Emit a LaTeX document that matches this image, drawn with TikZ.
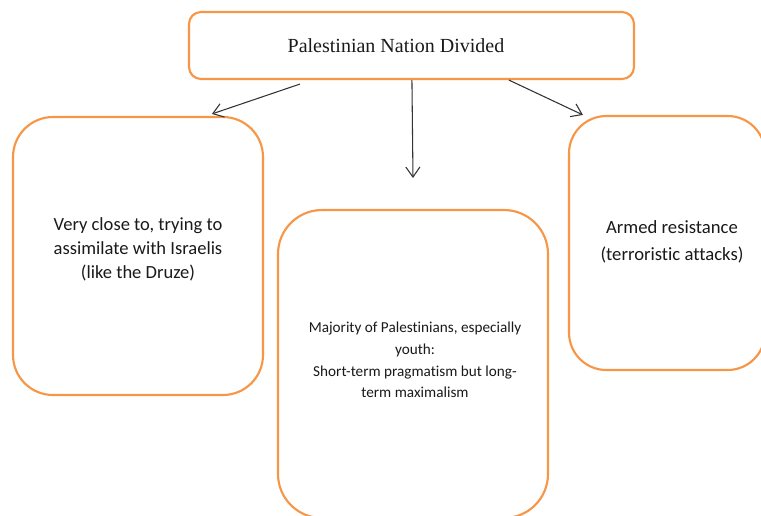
\documentclass[tikz,border=0pt]{standalone}
\usepackage{fontspec}
\setmainfont{Liberation Serif}
\newfontfamily\carlitofont[Ligatures=NoCommon]{Carlito}
\usetikzlibrary{arrows.meta,calc}
\definecolor{boxorange}{HTML}{F79646}
\definecolor{arrgray}{HTML}{333333}
\definecolor{txtgray}{HTML}{1A1A1A}
\tikzset{
  box/.style={draw=boxorange, line width=1.6pt, fill=white, inner sep=0pt, rectangle},
  arr/.style={draw=arrgray, line width=0.8pt, -{Straight Barb[length=7.5pt,width=10.5pt,line width=0.8pt]}},
  txt/.style={align=center, inner sep=0pt, text=txtgray}
}
\begin{document}
\begin{tikzpicture}[x=0.75pt,y=-0.75pt]
\useasboundingbox (0,0) rectangle (761,515);
\node[box, rounded corners=9pt, minimum width=445*0.75pt, minimum height=67*0.75pt] (top) at (411.5,45.5) {};
\node[box, rounded corners=30pt, minimum width=250*0.75pt, minimum height=278*0.75pt] (left) at (138,256) {};
\node[box, rounded corners=33pt, minimum width=270*0.75pt, minimum height=308*0.75pt] (mid) at (413,364) {};
\node[box, rounded corners=28pt, minimum width=196*0.75pt, minimum height=254*0.75pt] (right) at (667,243) {};

\node[txt, font=\fontsize{15}{18}\selectfont] (toptext) at (396,46) {Palestinian Nation Divided};
\node[txt, font=\carlitofont\fontsize{13.9}{18}\selectfont] (lefttext) at (138,249) {Very close to, trying to\\assimilate with Israelis\\(like the Druze)};
\node[txt, font=\carlitofont\fontsize{11.4}{16.3}\selectfont] (midtext) at (415,360) {Majority of Palestinians, especially\\youth:\\Short-term pragmatism but long-\\term maximalism};
\node[txt, font=\carlitofont\fontsize{14}{20}\selectfont] (righttext) at (672,242) {Armed resistance\\(terroristic attacks)};

\coordinate (midtip) at (413,178);
\draw[arr] ($(top.south west)+(112,4)$) -- ($(left.north west)+(200,-2)$);
\draw[arr] ($(top.south west)+(224,0)$) -- (midtip);
\draw[arr] ($(top.south west)+(321,0)$) -- ($(right.north west)+(15,0)$);
\end{tikzpicture}
\end{document}
